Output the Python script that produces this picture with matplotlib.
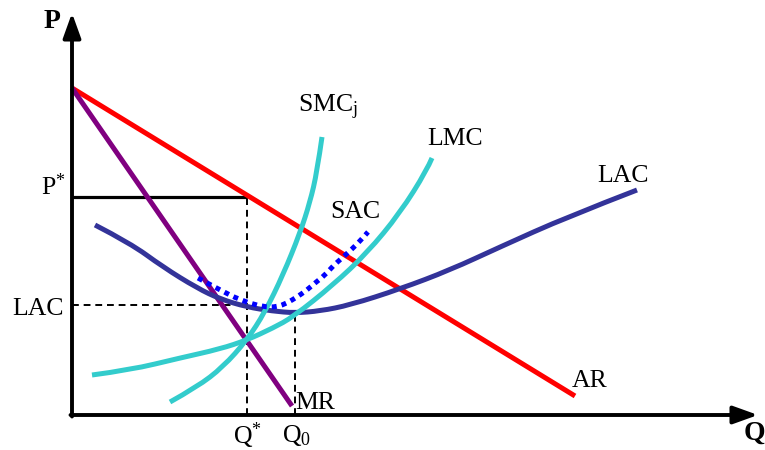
import matplotlib
matplotlib.use("Agg")
import matplotlib.pyplot as plt
from matplotlib.path import Path
from matplotlib.patches import PathPatch

plt.rcParams["font.family"] = ["Liberation Serif", "DejaVu Serif"]
plt.rcParams["mathtext.fontset"] = "custom"
plt.rcParams["mathtext.rm"] = "Liberation Serif"
plt.rcParams["mathtext.it"] = "Liberation Serif:italic"

# Quantity / price coordinates of each curve (origin at the axes corner)
ar_q = [0, 503]
ar_p = [327, 19]

mr_q = [0, 220]
mr_p = [327, 9]

lac_q = [23, 58, 91, 125, 148, 175, 200, 223, 248, 278, 328, 378, 428, 495, 565]
lac_p = [190, 172, 148, 127, 116, 108, 104, 102, 104, 110, 126, 145, 168, 198, 225]

sac_q = [126, 148, 168, 191, 205, 215, 225, 235, 243, 253, 261, 270, 280, 288, 296]
sac_p = [137, 125, 115, 108, 108, 112, 118, 125, 132, 140, 149, 157, 166, 174, 183]

smc_q = [98, 125, 151, 175, 193, 211, 228, 238, 245, 250]
smc_p = [13, 28, 48, 75, 103, 140, 182, 213, 243, 278]

lmc_q = [20, 58, 108, 148, 175, 201, 221, 261, 295, 328, 355, 360]
lmc_p = [40, 45, 57, 66, 75, 87, 98, 130, 162, 202, 245, 257]

# Equilibrium values
q_star = 175
p_star = 218
q_zero = 223
lac_level = 110
lac_min = 103

q_axis_end = 686
p_axis_end = 402

fig = plt.figure(figsize=(7.65, 4.5), dpi=100)
ax = fig.add_axes([0, 0, 1, 1])
ax.set_xlim(-72, 693)
ax.set_ylim(-35, 415)
ax.axis("off")


def smooth_curve(xs, ys, **style):
    """Draw a smooth quadratic B-spline guided by the listed points."""
    pts = list(zip(xs, ys))
    verts = [pts[0]]
    codes = [Path.MOVETO]
    for i in range(1, len(pts) - 1):
        end = pts[i + 1] if i == len(pts) - 2 else (
            (pts[i][0] + pts[i + 1][0]) / 2, (pts[i][1] + pts[i + 1][1]) / 2)
        verts += [pts[i], end]
        codes += [Path.CURVE3, Path.CURVE3]
    patch = PathPatch(Path(verts, codes), fill=False, **style)
    ax.add_patch(patch)
    return patch


# Axes with arrow heads
arrow = dict(arrowstyle="-|>,head_length=1.25,head_width=0.45",
             mutation_scale=12, color="black", lw=2.8, shrinkA=0, shrinkB=0)
ax.annotate("", xy=(0, p_axis_end), xytext=(0, -1.5), arrowprops=arrow, zorder=10)
ax.annotate("", xy=(q_axis_end, 0), xytext=(-1.5, 0), arrowprops=arrow, zorder=10)

# Guide lines
dash = (0, (3.5, 2.5))
ax.plot([0, q_star], [p_star, p_star], color="black", lw=2.3, zorder=3,
        solid_capstyle="butt")
ax.plot([q_star, q_star], [0, p_star], color="black", lw=1.4, ls=dash, zorder=2)
ax.plot([0, q_star], [lac_level, lac_level], color="black", lw=1.4, ls=dash, zorder=2)
ax.plot([q_zero, q_zero], [0, lac_min], color="black", lw=1.4, ls=dash, zorder=2)

# Curves
lw = 3.6
ax.plot(ar_q, ar_p, color="#ff0000", lw=lw, zorder=4, solid_capstyle="butt")
ax.plot(mr_q, mr_p, color="#800080", lw=lw, zorder=5, solid_capstyle="butt")
smooth_curve(lac_q, lac_p, edgecolor="#333399", lw=lw, zorder=6, capstyle="butt")
smooth_curve(smc_q, smc_p, edgecolor="#33cccc", lw=lw, zorder=7, capstyle="butt")
smooth_curve(lmc_q, lmc_p, edgecolor="#33cccc", lw=lw, zorder=7, capstyle="butt")
smooth_curve(sac_q, sac_p, edgecolor="#0000ff", lw=lw, zorder=8,
             linestyle=(0, (1, 1)), capstyle="butt")

# Labels
fs = 18.5
ax.text(-20, 393, "P", fontsize=20, fontweight="bold", ha="center", va="center")
ax.text(693, -6, "Q", fontsize=20, fontweight="bold", ha="right", va="top")
ax.text(-6, p_star + 10, r"P$^{*}$", fontsize=fs, ha="right", va="center")
ax.text(-8, 106, "LAC", fontsize=fs, ha="right", va="center")
ax.text(q_star, -21, r"Q$^{*}$", fontsize=fs, ha="center", va="center")
ax.text(q_zero + 2, -21, r"Q$_{0}$", fontsize=fs, ha="center", va="center")
ax.text(223, 12, "MR", fontsize=fs, ha="left", va="center")
ax.text(500, 34, "AR", fontsize=fs, ha="left", va="center")
ax.text(525, 239, "LAC", fontsize=fs, ha="left", va="center")
ax.text(258, 203, "SAC", fontsize=fs, ha="left", va="center")
ax.text(355, 276, "LMC", fontsize=fs, ha="left", va="center")
ax.text(226, 308, r"SMC$_{\mathrm{j}}$", fontsize=fs, ha="left", va="center")

fig.savefig("out.png", dpi=100)
